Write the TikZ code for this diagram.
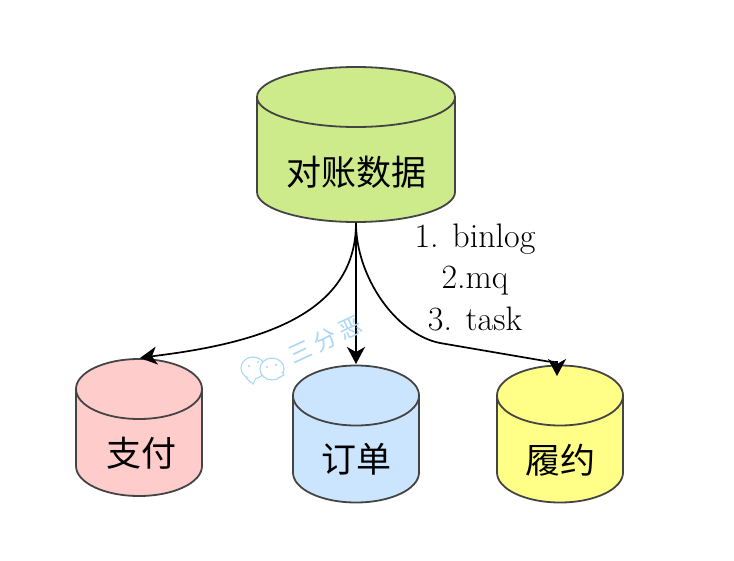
\documentclass[tikz,border=0pt]{standalone}
\usepackage{fontspec}
\newfontfamily\cjk{Noto Sans CJK SC}
\usetikzlibrary{shapes.geometric,arrows.meta}
\definecolor{dbgreen}{HTML}{CDEB8B}
\definecolor{dbpink}{HTML}{FFCCCC}
\definecolor{dbblue}{HTML}{CCE5FF}
\definecolor{dbyellow}{HTML}{FFFF88}
\definecolor{dbline}{HTML}{444444}
\definecolor{wmark}{HTML}{A9D7F4}

\begin{document}
\begin{tikzpicture}[x=1pt, y=-1pt, inner sep=0pt]
    \tikzstyle{db}=[cylinder, shape border rotate=90, anchor=shape center, text width=100pt, aspect=0.6, draw=dbline, line width=1.8pt, cylinder uses custom fill]
    \tikzstyle{big}=[db, minimum width=198pt, minimum height=155pt]
    \tikzstyle{small}=[db, minimum width=126pt, minimum height=137pt]
    \tikzstyle{dbname}=[text=black, font=\fontsize{35}{35}\cjk]
    \tikzstyle{feed}=[-{Stealth[length=17pt, width=18pt, inset=5pt]}, draw=black, line width=1.7pt]
    \tikzstyle{wm}=[draw=wmark, line width=1.1pt, fill=white]

    \useasboundingbox (0,0) rectangle (734,560);

    \node[big, cylinder body fill=dbgreen, cylinder end fill=dbgreen] (recon) at (356,144.5) {};
    \node[small, cylinder body fill=dbpink, cylinder end fill=dbpink] (pay) at (139,427.5) {};
    \node[small, cylinder body fill=dbblue, cylinder end fill=dbblue] (order) at (356,434) {};
    \node[small, cylinder body fill=dbyellow, cylinder end fill=dbyellow] (fulfil) at (560,434) {};

    \node[dbname] (recon name) at (356,172) {对账数据};
    \node[dbname] (pay name) at (141,453) {支付};
    \node[dbname] (order name) at (356,459) {订单};
    \node[dbname] (fulfil name) at (560,460) {履约};

    \node[align=center, font=\fontsize{34}{41.5}\selectfont] (sources) at (475,277) {1. binlog\\2.mq\\3. task};

    \coordinate (pay top) at (140,358);
    \coordinate (order top) at (356,364);
    \coordinate (fulfil top) at (557,376);
    \coordinate (pay bend) at (158,355.5);
    \coordinate (fulfil bend) at (548,361.5);
    \coordinate (fulfil drop) at (557,362);

    \draw[feed] (recon.south) .. controls (356,312) and (265,342) .. (pay bend) -- (pay top);
    \draw[feed] (recon.south) -- (order top);
    \draw[feed] (recon.south) .. controls (356,276) and (395,334) .. (440,343) -- (fulfil bend) -- (fulfil drop) -- (fulfil top);

    % watermark
    \node[rotate=25, text=wmark, font=\fontsize{23}{23}\cjk] (mark) at (325,340) {三\hspace{.2em}分\hspace{.2em}恶};
    \draw[wm] (253,368) ellipse (12 and 11);
    \draw[wm] (246,378) -- (253,384) -- (256,378);
    \draw[wm] (272,369) ellipse (12 and 11);
    \draw[wm] (278,378) -- (284,375) -- (282,372);
    \fill[wmark] (249,366) circle (1.2) (258,362) circle (1.2) (267,367) circle (1.2) (276,365) circle (1.2);
\end{tikzpicture}
\end{document}
